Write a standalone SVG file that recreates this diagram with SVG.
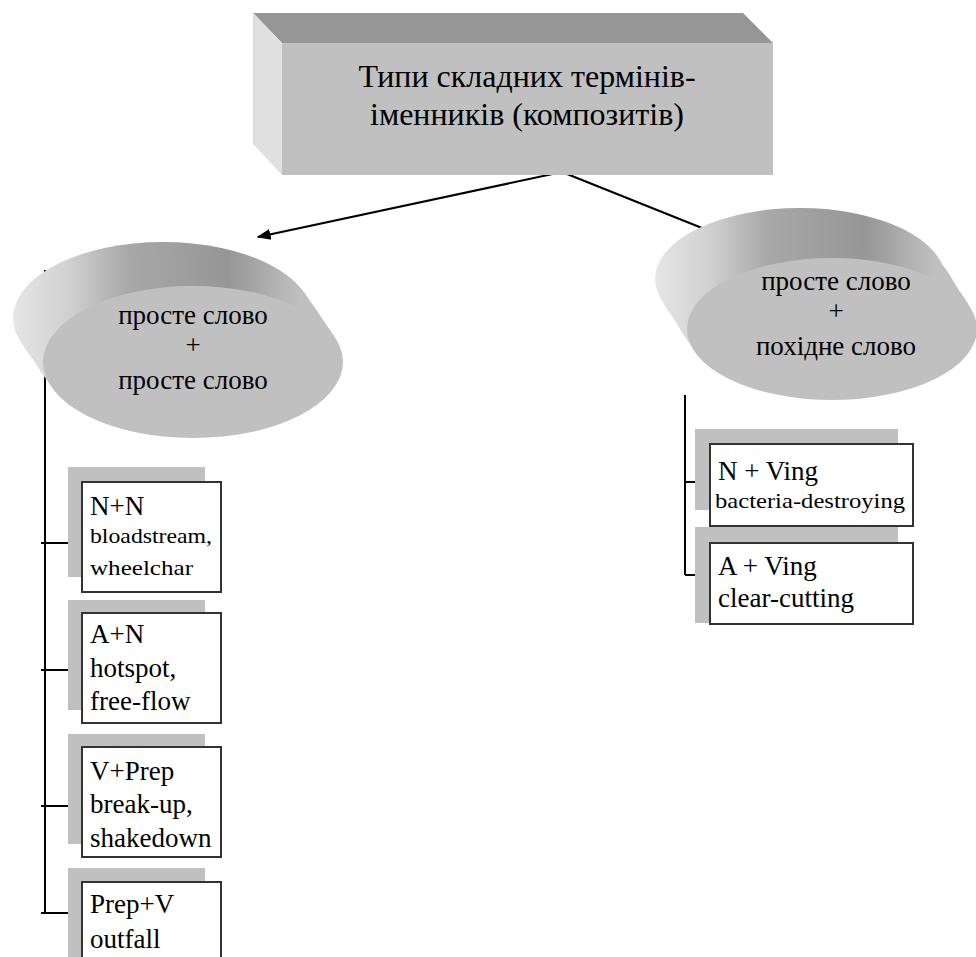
<svg xmlns="http://www.w3.org/2000/svg" width="976" height="957" viewBox="0 0 976 957">
<style>
text{font-family:'Liberation Serif','Times New Roman',serif;fill:#000}
.title{font-size:32px}
.el{font-size:27px}
.bx{font-size:27px}
.sm{font-size:21px}
.shadow{fill:#c0c0c0}
.box{fill:#fff;stroke:#333;stroke-width:2}
.ln{stroke:#000;stroke-width:2;fill:none}
.sideL{fill:url(#sideL)}
.sideR{fill:url(#sideR)}
</style>
<defs>
<linearGradient id="sideL" gradientUnits="userSpaceOnUse" x1="13" y1="0" x2="300" y2="0">
<stop offset="0" stop-color="#e6e6e6"/>
<stop offset="0.2" stop-color="#d0d0d0"/>
<stop offset="0.4" stop-color="#a8a8a8"/>
<stop offset="0.75" stop-color="#969696"/>
<stop offset="1" stop-color="#c0c0c0"/>
</linearGradient>
<linearGradient id="sideR" gradientUnits="userSpaceOnUse" x1="655" y1="0" x2="935" y2="0">
<stop offset="0" stop-color="#e6e6e6"/>
<stop offset="0.2" stop-color="#d0d0d0"/>
<stop offset="0.4" stop-color="#a8a8a8"/>
<stop offset="0.75" stop-color="#969696"/>
<stop offset="1" stop-color="#c0c0c0"/>
</linearGradient>
<marker id="arr" viewBox="0 0 10 10" refX="9" refY="5" markerWidth="7" markerHeight="7" orient="auto" markerUnits="strokeWidth">
<path d="M0,1 L10,5 L0,9 z" fill="#000"/>
</marker>
</defs>

<g id="connectors">
<line class="ln" x1="45" y1="270" x2="45" y2="913"/>
<line class="ln" x1="41" y1="543" x2="82" y2="543"/>
<line class="ln" x1="41" y1="670" x2="82" y2="670"/>
<line class="ln" x1="41" y1="806" x2="82" y2="806"/>
<line class="ln" x1="41" y1="913" x2="82" y2="913"/>
<line class="ln" x1="685" y1="395" x2="685" y2="575"/>
<line class="ln" x1="685" y1="482" x2="710" y2="482"/>
<line class="ln" x1="685" y1="575" x2="710" y2="575"/>
<line class="ln" x1="562" y1="172" x2="707" y2="230"/>
<line class="ln" x1="562" y1="172" x2="258" y2="237" marker-end="url(#arr)"/>
</g>

<g id="title">
<polygon points="253,13 743,13 773,43 282,43" fill="#969696"/>
<polygon points="253,13 282,43 282,175 253,144" fill="#e0e0e0"/>
<rect x="282" y="43" width="491" height="132" fill="#c0c0c0"/>
<text class="title" x="527" y="87" text-anchor="middle">Типи складних термінів-</text>
<text class="title" x="527" y="125" text-anchor="middle">іменників (композитів)</text>
</g>

<g id="left-ellipse">
<ellipse class="sideL" cx="163" cy="318" rx="150" ry="76"/>
<ellipse class="sideL" cx="166" cy="322" rx="150" ry="76"/>
<ellipse class="sideL" cx="169" cy="327" rx="150" ry="76"/>
<ellipse class="sideL" cx="172" cy="331" rx="150" ry="76"/>
<ellipse class="sideL" cx="175" cy="335" rx="150" ry="76"/>
<ellipse class="sideL" cx="178" cy="340" rx="150" ry="76"/>
<ellipse class="sideL" cx="181" cy="344" rx="150" ry="76"/>
<ellipse class="sideL" cx="184" cy="349" rx="150" ry="76"/>
<ellipse class="sideL" cx="187" cy="353" rx="150" ry="76"/>
<ellipse class="sideL" cx="190" cy="357" rx="150" ry="76"/>
<ellipse cx="193" cy="362" rx="150" ry="76" fill="#c0c0c0"/>
<text class="el" x="193" y="324" text-anchor="middle">просте слово</text>
<text class="el" x="193" y="354" text-anchor="middle">+</text>
<text class="el" x="193" y="389" text-anchor="middle">просте слово</text>
</g>

<g id="right-ellipse">
<ellipse class="sideR" cx="800" cy="279" rx="145" ry="71"/>
<ellipse class="sideR" cx="803" cy="284" rx="145" ry="71"/>
<ellipse class="sideR" cx="806" cy="289" rx="145" ry="71"/>
<ellipse class="sideR" cx="810" cy="294" rx="145" ry="71"/>
<ellipse class="sideR" cx="813" cy="299" rx="145" ry="71"/>
<ellipse class="sideR" cx="816" cy="304" rx="145" ry="71"/>
<ellipse class="sideR" cx="819" cy="309" rx="145" ry="71"/>
<ellipse class="sideR" cx="822" cy="314" rx="145" ry="71"/>
<ellipse class="sideR" cx="826" cy="319" rx="145" ry="71"/>
<ellipse class="sideR" cx="829" cy="324" rx="145" ry="71"/>
<ellipse cx="832" cy="329" rx="145" ry="71" fill="#c0c0c0"/>
<text class="el" x="836" y="290" text-anchor="middle">просте слово</text>
<text class="el" x="836" y="320" text-anchor="middle">+</text>
<text class="el" x="836" y="355" text-anchor="middle">похідне слово</text>
</g>

<g id="box-nn">
<rect class="shadow" x="68" y="467" width="137" height="110"/>
<rect class="box" x="82" y="482" width="139" height="110"/>
<text class="bx" x="90" y="515">N+N</text>
<text class="sm" x="90" y="543" textLength="122" lengthAdjust="spacingAndGlyphs">bloadstream,</text>
<text class="sm" x="90" y="575" textLength="103" lengthAdjust="spacingAndGlyphs">wheelchar</text>
</g>

<g id="box-an">
<rect class="shadow" x="68" y="600" width="137" height="110"/>
<rect class="box" x="82" y="613" width="139" height="110"/>
<text class="bx" x="90" y="643">A+N</text>
<text class="bx" x="90" y="677">hotspot,</text>
<text class="bx" x="90" y="710">free-flow</text>
</g>

<g id="box-vprep">
<rect class="shadow" x="68" y="734" width="137" height="110"/>
<rect class="box" x="82" y="747" width="139" height="110"/>
<text class="bx" x="90" y="780">V+Prep</text>
<text class="bx" x="90" y="813">break-up,</text>
<text class="bx" x="90" y="847">shakedown</text>
</g>

<g id="box-prepv">
<rect class="shadow" x="68" y="868" width="137" height="110"/>
<rect class="box" x="82" y="882" width="139" height="110"/>
<text class="bx" x="90" y="913">Prep+V</text>
<text class="bx" x="90" y="948">outfall</text>
</g>

<g id="box-nving">
<rect class="shadow" x="695" y="429" width="203" height="81"/>
<rect class="box" x="710" y="444" width="203" height="82"/>
<text class="bx" x="718" y="480">N + Ving</text>
<text class="sm" x="715" y="508" textLength="190" lengthAdjust="spacingAndGlyphs">bacteria-destroying</text>
</g>

<g id="box-aving">
<rect class="shadow" x="695" y="527" width="203" height="96"/>
<rect class="box" x="710" y="543" width="203" height="81"/>
<text class="bx" x="718" y="575">A + Ving</text>
<text class="bx" x="718" y="607">clear-cutting</text>
</g>
</svg>
